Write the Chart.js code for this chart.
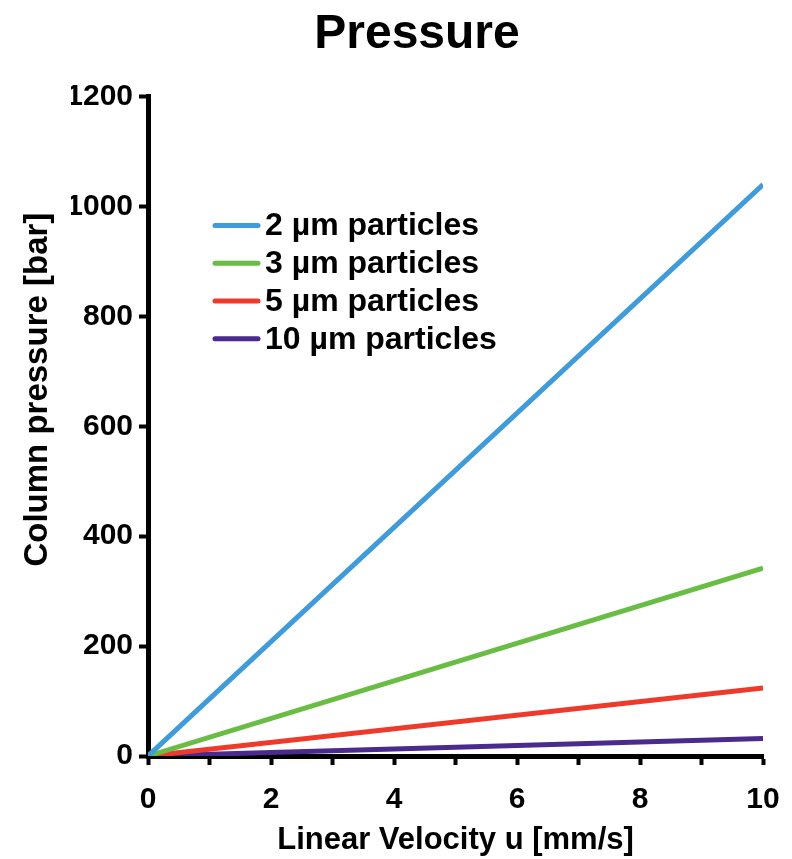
<!DOCTYPE html>
<html>
<head>
<meta charset="utf-8">
<script src="https://cdn.jsdelivr.net/npm/chart.js@4"></script>
<style>
  html, body { margin: 0; padding: 0; background: #fff; }
  #wrap { width: 792px; height: 859px; }
</style>
</head>
<body>
<div id="wrap"><canvas id="chart"></canvas></div>
<script>
// velocity (mm/s) at both ends of each straight line
const velocity = [0, 10];
const labels = ['2 µm particles', '3 µm particles', '5 µm particles', '10 µm particles'];
const pressure2 = [0, 1040];
const pressure3 = [0, 342];
const pressure5 = [0, 124];
const pressure10 = [0, 32];
const colors = ['#3f9bd9', '#69bd45', '#ee3a2b', '#4a2a8c'];
const yTicks = [0, 200, 400, 600, 800, 1000, 1200];

const font = 'Liberation Sans, Arial, Helvetica, sans-serif';

const toPoints = arr => arr.map((y, i) => ({ x: velocity[i], y: y }));
const series = [pressure2, pressure3, pressure5, pressure10];

// legend drawn inside plot area, top-left
const innerLegend = {
    id: 'innerLegend',
    afterDatasetsDraw(chart) {
        const { ctx, chartArea } = chart;
        const x0 = chartArea.left + 67;
        const y0 = chartArea.top + 129;
        ctx.save();
        ctx.font = 'bold 32px ' + font;
        ctx.textBaseline = 'middle';
        chart.data.datasets.forEach((ds, i) => {
            const y = y0 + i * 37.7;
            ctx.strokeStyle = ds.borderColor;
            ctx.lineWidth = 5;
            ctx.lineCap = 'round';
            ctx.beginPath();
            ctx.moveTo(x0, y);
            ctx.lineTo(x0 + 43, y);
            ctx.stroke();
            ctx.fillStyle = '#000';
            ctx.fillText(ds.label, x0 + 50, y + 1);
        });
        ctx.restore();
    }
};

new Chart(document.getElementById('chart'), {
    type: 'line',
    data: {
        datasets: series.map((s, i) => ({
            label: labels[i],
            data: toPoints(s),
            borderColor: colors[i],
            backgroundColor: colors[i],
            borderWidth: 5,
            pointRadius: 0,
            fill: false,
            tension: 0
        }))
    },
    options: {
        responsive: true,
        maintainAspectRatio: false,
        animation: false,
        layout: { padding: { left: 71, right: 29, top: 0, bottom: 0 } },
        plugins: {
            legend: { display: false },
            tooltip: { enabled: false },
            title: {
                display: true,
                text: 'Pressure',
                color: '#000',
                font: { family: font, size: 48, weight: 'bold' },
                padding: { top: 6, bottom: 33 }
            }
        },
        scales: {
            x: {
                type: 'linear',
                min: 0,
                max: 10,
                afterFit: scale => { scale.height = 103; scale.paddingRight = 0; scale.paddingLeft = 0; },
                grid: { drawOnChartArea: false, drawTicks: true, tickLength: 9, tickWidth: 4, tickColor: '#000' },
                border: { display: true, width: 5, color: '#000' },
                ticks: {
                    stepSize: 1,
                    color: '#000',
                    padding: 17,
                    maxRotation: 0,
                    font: { family: font, size: 30, weight: 'bold' },
                    callback: v => (v % 2 === 0 ? v : '')
                },
                title: {
                    display: true,
                    text: 'Linear Velocity u [mm/s]',
                    color: '#000',
                    font: { family: font, size: 31, weight: 'bold' },
                    padding: { top: 0, bottom: 0 }
                }
            },
            y: {
                min: 0,
                max: 1200,
                afterBuildTicks: scale => { scale.ticks = yTicks.map(v => ({ value: v })); },
                afterFit: scale => { scale.width = 77; },
                grid: { drawOnChartArea: false, drawTicks: true, tickLength: 9, tickWidth: 4, tickColor: '#000' },
                border: { display: true, width: 5, color: '#000' },
                ticks: {
                    color: '#000',
                    padding: 6,
                    font: { family: font, size: 30, weight: 'bold' },
                    callback: v => String(v)
                },
                title: {
                    display: true,
                    // leading spaces nudge the label upward like the original
                    text: '        Column pressure [bar]',
                    color: '#000',
                    font: { family: font, size: 33, weight: 'bold' },
                    padding: { top: -53, bottom: 0 }
                }
            }
        }
    },
    plugins: [innerLegend]
});
</script>
</body>
</html>
